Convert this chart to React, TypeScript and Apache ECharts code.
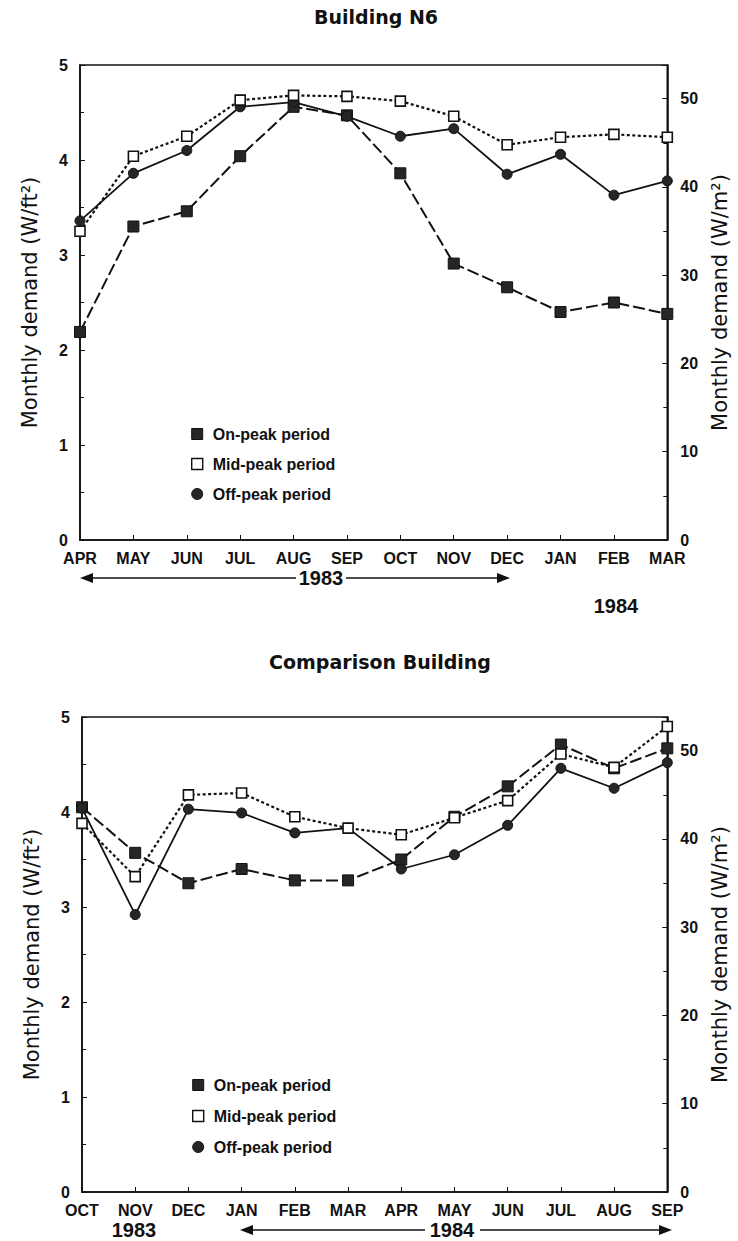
import React, { useEffect, useRef } from "react";
import * as echarts from "echarts";

// ---------- data ----------
const topMonths = ["APR", "MAY", "JUN", "JUL", "AUG", "SEP", "OCT", "NOV", "DEC", "JAN", "FEB", "MAR"];
const topOnPeak = [2.19, 3.3, 3.46, 4.04, 4.56, 4.47, 3.86, 2.91, 2.66, 2.4, 2.5, 2.38];
const topMidPeak = [3.25, 4.04, 4.25, 4.63, 4.68, 4.67, 4.62, 4.46, 4.16, 4.24, 4.27, 4.24];
const topOffPeak = [3.36, 3.86, 4.1, 4.56, 4.61, 4.46, 4.25, 4.33, 3.85, 4.06, 3.63, 3.78];

const bottomMonths = ["OCT", "NOV", "DEC", "JAN", "FEB", "MAR", "APR", "MAY", "JUN", "JUL", "AUG", "SEP"];
const bottomOnPeak = [4.05, 3.57, 3.25, 3.4, 3.28, 3.28, 3.5, 3.95, 4.27, 4.71, 4.46, 4.67];
const bottomMidPeak = [3.88, 3.32, 4.18, 4.2, 3.95, 3.83, 3.76, 3.94, 4.12, 4.61, 4.47, 4.9];
const bottomOffPeak = [4.04, 2.92, 4.03, 3.99, 3.78, 3.83, 3.4, 3.55, 3.86, 4.46, 4.25, 4.52];

const seriesNames = ["On-peak period", "Mid-peak period", "Off-peak period"];
const titles = ["Building N6", "Comparison Building"];
const leftAxisName = "Monthly demand (W/ft²)";
const rightAxisName = "Monthly demand (W/m²)";
const leftMax = 5;
const WM2_PER_WFT2 = 10.7639;

// ---------- styling ----------
const INK = "#111";
const FONT = "Liberation Sans, Arial, sans-serif";
const WIDE_FONT = "DejaVu Sans, Liberation Sans, sans-serif";

const seriesStyles = [
  {
    symbol: "rect",
    symbolSize: 11,
    lineStyle: { color: INK, width: 2, type: [12, 4] },
    itemStyle: { color: "#262626", borderColor: INK, borderWidth: 1 },
  },
  {
    symbol: "rect",
    symbolSize: 10,
    lineStyle: { color: INK, width: 2.2, type: [3, 2.5] },
    itemStyle: { color: "#fff", borderColor: INK, borderWidth: 1.6 },
  },
  {
    symbol: "circle",
    symbolSize: 10,
    lineStyle: { color: INK, width: 1.8, type: "solid" },
    itemStyle: { color: "#262626", borderColor: INK, borderWidth: 1 },
  },
];

const legendData = [
  { name: seriesNames[0], icon: "rect", itemStyle: { color: "#262626", borderColor: INK, borderWidth: 1 } },
  { name: seriesNames[1], icon: "rect", itemStyle: { color: "#fff", borderColor: INK, borderWidth: 1.4 } },
  { name: seriesNames[2], icon: "circle", itemStyle: { color: "#262626", borderColor: INK, borderWidth: 1 } },
];

const grids = [
  { left: 80, top: 65, width: 590, height: 475 },
  { left: 82, top: 717, width: 591, height: 475 },
];

const tickLabel = { fontSize: 16, fontWeight: "bold", fontFamily: FONT, color: INK };
const nameStyle = { fontSize: 21, fontFamily: WIDE_FONT, color: INK };

function makeYAxes(gridIndex: number) {
  const left = {
    type: "value",
    gridIndex,
    position: "left",
    min: 0,
    max: leftMax,
    interval: 1,
    name: leftAxisName,
    nameLocation: "middle",
    nameGap: 40,
    nameTextStyle: nameStyle,
    axisLine: { show: true, lineStyle: { color: INK, width: 1.6 } },
    axisTick: { show: true, inside: true, length: 5, lineStyle: { color: INK } },
    minorTick: { show: true, splitNumber: 2, length: 4, lineStyle: { color: INK } },
    splitLine: { show: false },
    axisLabel: { ...tickLabel, margin: 12 },
  };
  const right = {
    type: "value",
    gridIndex,
    position: "right",
    min: 0,
    max: leftMax * WM2_PER_WFT2,
    interval: 10,
    name: rightAxisName,
    nameLocation: "middle",
    nameRotate: 90,
    nameGap: 38,
    nameTextStyle: nameStyle,
    axisLine: { show: true, lineStyle: { color: INK, width: 1.6 } },
    axisTick: { show: true, inside: true, length: 5, lineStyle: { color: INK } },
    minorTick: { show: true, splitNumber: 2, length: 4, lineStyle: { color: INK } },
    splitLine: { show: false },
    axisLabel: { ...tickLabel, margin: 13, showMaxLabel: false },
  };
  return [left, right];
}

function makeXAxis(gridIndex: number, months: string[]) {
  return {
    type: "category",
    gridIndex,
    data: months,
    boundaryGap: false,
    axisLine: { show: true, lineStyle: { color: INK, width: 1.6 } },
    axisTick: { show: true, inside: true, length: 5, alignWithLabel: true, lineStyle: { color: INK } },
    axisLabel: { ...tickLabel, interval: 0, margin: 10 },
    splitLine: { show: false },
  };
}

function makeSeries(gridIdx: number, values: number[][]) {
  return values.map((vals, i) => ({
    type: "line",
    name: seriesNames[i],
    xAxisIndex: gridIdx,
    yAxisIndex: gridIdx * 2,
    data: vals,
    symbol: seriesStyles[i].symbol,
    symbolSize: seriesStyles[i].symbolSize,
    showAllSymbol: true,
    lineStyle: seriesStyles[i].lineStyle,
    itemStyle: seriesStyles[i].itemStyle,
    z: i === 1 ? 4 : 3,
  }));
}

function arrow(x1: number, x2: number, y: number, gapFrom: number, gapTo: number) {
  const head = 13;
  const hh = 5;
  return [
    { type: "polygon", shape: { points: [[x1, y], [x1 + head, y - hh], [x1 + head, y + hh]] }, style: { fill: INK } },
    { type: "line", shape: { x1: x1 + head, y1: y, x2: gapFrom, y2: y }, style: { stroke: INK, lineWidth: 1.5 } },
    { type: "line", shape: { x1: gapTo, y1: y, x2: x2 - head, y2: y }, style: { stroke: INK, lineWidth: 1.5 } },
    { type: "polygon", shape: { points: [[x2, y], [x2 - head, y - hh], [x2 - head, y + hh]] }, style: { fill: INK } },
  ];
}

function yearText(text: string, x: number, y: number) {
  return {
    type: "text",
    x,
    y,
    style: {
      text,
      fill: INK,
      font: `bold 20px ${FONT}`,
      align: "center",
      verticalAlign: "middle",
    },
  };
}

function legendAt(left: number, top: number, gap: number) {
  return {
    data: legendData,
    orient: "vertical",
    left,
    top,
    padding: 0,
    itemWidth: 11,
    itemHeight: 11,
    itemGap: gap,
    selectedMode: false,
    textStyle: { fontSize: 16, fontWeight: "bold", fontFamily: FONT, color: INK, padding: [0, 0, 0, 5] },
  };
}

export default function App() {
  const ref = useRef<HTMLDivElement>(null);

  useEffect(() => {
    if (!ref.current) return;
    const chart = echarts.init(ref.current, null, { renderer: "svg" });
    const option = {
      animation: false,
      backgroundColor: "#fff",
      title: [
        {
          text: titles[0],
          left: 376,
          top: 7,
          padding: 0,
          textAlign: "center",
          textStyle: { fontSize: 19, fontWeight: "bold", fontFamily: WIDE_FONT, color: INK },
        },
        {
          text: titles[1],
          left: 380,
          top: 652,
          padding: 0,
          textAlign: "center",
          textStyle: { fontSize: 19, fontWeight: "bold", fontFamily: WIDE_FONT, color: INK },
        },
      ],
      legend: [legendAt(191, 426, 14), legendAt(192, 1077, 15)],
      grid: grids.map((g) => ({ ...g, show: true, borderColor: INK, borderWidth: 1.6, backgroundColor: "transparent" })),
      xAxis: [makeXAxis(0, topMonths), makeXAxis(1, bottomMonths)],
      yAxis: [...makeYAxes(0), ...makeYAxes(1)],
      series: [
        ...makeSeries(0, [topOnPeak, topMidPeak, topOffPeak]),
        ...makeSeries(1, [bottomOnPeak, bottomMidPeak, bottomOffPeak]),
      ],
      graphic: [
        ...arrow(80, 510, 578, 296, 346),
        yearText("1983", 321, 578),
        yearText("1984", 616, 606),
        yearText("1983", 134, 1230),
        ...arrow(240, 672, 1230, 425, 480),
        yearText("1984", 452, 1230),
      ],
    };
    chart.setOption(option as any);
    return () => chart.dispose();
  }, []);

  return (
    <div
      ref={ref}
      style={{ position: "absolute", left: 0, top: 0, width: 738, height: 1241, background: "#fff" }}
    />
  );
}
